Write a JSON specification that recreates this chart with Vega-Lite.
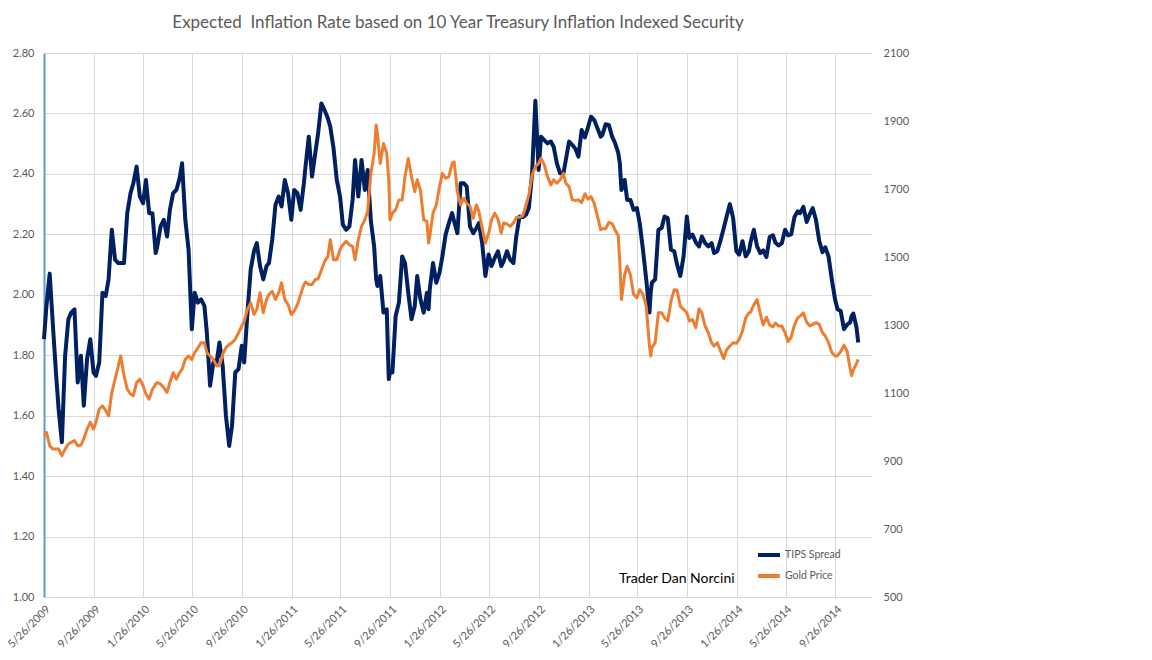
{
  "$schema": "https://vega.github.io/schema/vega-lite/v6.json",
  "description": "Expected inflation (10y TIPS spread) against the gold price, May 2009 - Nov 2014.",
  "width": 828,
  "height": 544,
  "autosize": {"type": "none"},
  "padding": {"left": 44, "top": 53, "right": 280, "bottom": 63},
  "background": "white",
  "title": {
    "text": "Expected \u00a0Inflation Rate based on 10 Year Treasury Inflation Indexed Security",
    "font": "Lato",
    "fontSize": 17,
    "fontWeight": "normal",
    "color": "#595959",
    "anchor": "middle",
    "frame": "group",
    "baseline": "alphabetic",
    "offset": 2
  },
  "data": {
    "values": [
      {"date": "2009-05-26", "tips": 1.853, "gold": 975},
      {"date": "2009-06-01", "tips": 1.963, "gold": 984},
      {"date": "2009-06-09", "tips": 2.070, "gold": 945},
      {"date": "2009-06-17", "tips": 1.897, "gold": 935},
      {"date": "2009-06-25", "tips": 1.732, "gold": 935},
      {"date": "2009-07-01", "tips": 1.622, "gold": 935},
      {"date": "2009-07-09", "tips": 1.512, "gold": 916},
      {"date": "2009-07-17", "tips": 1.798, "gold": 935},
      {"date": "2009-07-25", "tips": 1.919, "gold": 950},
      {"date": "2009-08-01", "tips": 1.941, "gold": 955},
      {"date": "2009-08-09", "tips": 1.952, "gold": 960},
      {"date": "2009-08-17", "tips": 1.710, "gold": 945},
      {"date": "2009-08-25", "tips": 1.798, "gold": 947},
      {"date": "2009-09-01", "tips": 1.633, "gold": 965},
      {"date": "2009-09-09", "tips": 1.787, "gold": 994},
      {"date": "2009-09-17", "tips": 1.853, "gold": 1014},
      {"date": "2009-09-25", "tips": 1.743, "gold": 994},
      {"date": "2009-10-01", "tips": 1.732, "gold": 1014},
      {"date": "2009-10-09", "tips": 1.776, "gold": 1053},
      {"date": "2009-10-17", "tips": 2.007, "gold": 1062},
      {"date": "2009-10-25", "tips": 1.996, "gold": 1048},
      {"date": "2009-11-01", "tips": 2.051, "gold": 1033},
      {"date": "2009-11-09", "tips": 2.215, "gold": 1102},
      {"date": "2009-11-17", "tips": 2.116, "gold": 1141},
      {"date": "2009-11-25", "tips": 2.105, "gold": 1180},
      {"date": "2009-12-01", "tips": 2.105, "gold": 1209},
      {"date": "2009-12-09", "tips": 2.105, "gold": 1151},
      {"date": "2009-12-17", "tips": 2.270, "gold": 1111},
      {"date": "2009-12-25", "tips": 2.336, "gold": 1097},
      {"date": "2010-01-01", "tips": 2.369, "gold": 1092},
      {"date": "2010-01-09", "tips": 2.424, "gold": 1131},
      {"date": "2010-01-17", "tips": 2.325, "gold": 1141},
      {"date": "2010-01-25", "tips": 2.303, "gold": 1121},
      {"date": "2010-02-01", "tips": 2.380, "gold": 1097},
      {"date": "2010-02-09", "tips": 2.270, "gold": 1082},
      {"date": "2010-02-17", "tips": 2.270, "gold": 1111},
      {"date": "2010-02-25", "tips": 2.138, "gold": 1126},
      {"date": "2010-03-01", "tips": 2.160, "gold": 1131},
      {"date": "2010-03-09", "tips": 2.226, "gold": 1126},
      {"date": "2010-03-17", "tips": 2.248, "gold": 1116},
      {"date": "2010-03-25", "tips": 2.193, "gold": 1102},
      {"date": "2010-04-01", "tips": 2.281, "gold": 1131},
      {"date": "2010-04-09", "tips": 2.336, "gold": 1160},
      {"date": "2010-04-17", "tips": 2.347, "gold": 1141},
      {"date": "2010-04-25", "tips": 2.386, "gold": 1160},
      {"date": "2010-05-01", "tips": 2.435, "gold": 1170},
      {"date": "2010-05-09", "tips": 2.248, "gold": 1199},
      {"date": "2010-05-17", "tips": 2.149, "gold": 1209},
      {"date": "2010-05-25", "tips": 1.886, "gold": 1199},
      {"date": "2010-06-01", "tips": 2.007, "gold": 1219},
      {"date": "2010-06-09", "tips": 1.974, "gold": 1233},
      {"date": "2010-06-17", "tips": 1.985, "gold": 1248},
      {"date": "2010-06-25", "tips": 1.963, "gold": 1248},
      {"date": "2010-07-01", "tips": 1.875, "gold": 1219},
      {"date": "2010-07-09", "tips": 1.699, "gold": 1209},
      {"date": "2010-07-17", "tips": 1.776, "gold": 1199},
      {"date": "2010-07-25", "tips": 1.776, "gold": 1180},
      {"date": "2010-08-01", "tips": 1.842, "gold": 1180},
      {"date": "2010-08-09", "tips": 1.765, "gold": 1214},
      {"date": "2010-08-17", "tips": 1.600, "gold": 1233},
      {"date": "2010-08-25", "tips": 1.500, "gold": 1243},
      {"date": "2010-09-01", "tips": 1.567, "gold": 1248},
      {"date": "2010-09-09", "tips": 1.743, "gold": 1258},
      {"date": "2010-09-17", "tips": 1.754, "gold": 1277},
      {"date": "2010-09-25", "tips": 1.831, "gold": 1297},
      {"date": "2010-10-01", "tips": 1.776, "gold": 1311},
      {"date": "2010-10-09", "tips": 1.941, "gold": 1346},
      {"date": "2010-10-17", "tips": 2.084, "gold": 1365},
      {"date": "2010-10-25", "tips": 2.144, "gold": 1331},
      {"date": "2010-11-01", "tips": 2.171, "gold": 1346},
      {"date": "2010-11-09", "tips": 2.095, "gold": 1395},
      {"date": "2010-11-17", "tips": 2.051, "gold": 1336},
      {"date": "2010-11-25", "tips": 2.095, "gold": 1375},
      {"date": "2010-12-01", "tips": 2.105, "gold": 1390},
      {"date": "2010-12-09", "tips": 2.182, "gold": 1399},
      {"date": "2010-12-17", "tips": 2.298, "gold": 1375},
      {"date": "2010-12-25", "tips": 2.325, "gold": 1395},
      {"date": "2011-01-01", "tips": 2.292, "gold": 1424},
      {"date": "2011-01-09", "tips": 2.380, "gold": 1375},
      {"date": "2011-01-17", "tips": 2.336, "gold": 1360},
      {"date": "2011-01-25", "tips": 2.248, "gold": 1331},
      {"date": "2011-02-01", "tips": 2.347, "gold": 1341},
      {"date": "2011-02-09", "tips": 2.336, "gold": 1360},
      {"date": "2011-02-17", "tips": 2.281, "gold": 1390},
      {"date": "2011-02-25", "tips": 2.369, "gold": 1419},
      {"date": "2011-03-01", "tips": 2.424, "gold": 1426},
      {"date": "2011-03-09", "tips": 2.523, "gold": 1419},
      {"date": "2011-03-17", "tips": 2.391, "gold": 1419},
      {"date": "2011-03-25", "tips": 2.468, "gold": 1434},
      {"date": "2011-04-01", "tips": 2.534, "gold": 1436},
      {"date": "2011-04-09", "tips": 2.633, "gold": 1461},
      {"date": "2011-04-17", "tips": 2.611, "gold": 1487},
      {"date": "2011-04-25", "tips": 2.584, "gold": 1502},
      {"date": "2011-05-01", "tips": 2.556, "gold": 1551},
      {"date": "2011-05-09", "tips": 2.485, "gold": 1492},
      {"date": "2011-05-17", "tips": 2.380, "gold": 1492},
      {"date": "2011-05-25", "tips": 2.325, "gold": 1522},
      {"date": "2011-06-01", "tips": 2.232, "gold": 1536},
      {"date": "2011-06-09", "tips": 2.215, "gold": 1546},
      {"date": "2011-06-17", "tips": 2.226, "gold": 1536},
      {"date": "2011-06-25", "tips": 2.314, "gold": 1531},
      {"date": "2011-07-01", "tips": 2.446, "gold": 1492},
      {"date": "2011-07-09", "tips": 2.325, "gold": 1551},
      {"date": "2011-07-17", "tips": 2.446, "gold": 1590},
      {"date": "2011-07-25", "tips": 2.347, "gold": 1609},
      {"date": "2011-08-01", "tips": 2.413, "gold": 1634},
      {"date": "2011-08-09", "tips": 2.243, "gold": 1746},
      {"date": "2011-08-17", "tips": 2.160, "gold": 1805},
      {"date": "2011-08-22", "tips": 2.051, "gold": 1888},
      {"date": "2011-08-25", "tips": 2.029, "gold": 1863},
      {"date": "2011-09-01", "tips": 2.062, "gold": 1775},
      {"date": "2011-09-09", "tips": 1.941, "gold": 1834},
      {"date": "2011-09-17", "tips": 1.952, "gold": 1805},
      {"date": "2011-09-22", "tips": 1.721, "gold": 1727},
      {"date": "2011-09-25", "tips": 1.743, "gold": 1609},
      {"date": "2011-10-01", "tips": 1.743, "gold": 1629},
      {"date": "2011-10-09", "tips": 1.930, "gold": 1639},
      {"date": "2011-10-17", "tips": 1.974, "gold": 1668},
      {"date": "2011-10-25", "tips": 2.127, "gold": 1668},
      {"date": "2011-11-01", "tips": 2.105, "gold": 1736},
      {"date": "2011-11-09", "tips": 2.007, "gold": 1790},
      {"date": "2011-11-17", "tips": 1.919, "gold": 1736},
      {"date": "2011-11-25", "tips": 1.963, "gold": 1692},
      {"date": "2011-12-01", "tips": 2.062, "gold": 1727},
      {"date": "2011-12-09", "tips": 1.985, "gold": 1697},
      {"date": "2011-12-17", "tips": 1.941, "gold": 1609},
      {"date": "2011-12-25", "tips": 2.007, "gold": 1605},
      {"date": "2011-12-29", "tips": 1.952, "gold": 1541},
      {"date": "2012-01-01", "tips": 2.018, "gold": 1561},
      {"date": "2012-01-09", "tips": 2.105, "gold": 1629},
      {"date": "2012-01-17", "tips": 2.040, "gold": 1653},
      {"date": "2012-01-25", "tips": 2.073, "gold": 1707},
      {"date": "2012-02-01", "tips": 2.127, "gold": 1746},
      {"date": "2012-02-09", "tips": 2.199, "gold": 1732},
      {"date": "2012-02-17", "tips": 2.237, "gold": 1736},
      {"date": "2012-02-25", "tips": 2.270, "gold": 1775},
      {"date": "2012-03-01", "tips": 2.243, "gold": 1780},
      {"date": "2012-03-09", "tips": 2.204, "gold": 1692},
      {"date": "2012-03-17", "tips": 2.369, "gold": 1653},
      {"date": "2012-03-25", "tips": 2.369, "gold": 1673},
      {"date": "2012-04-01", "tips": 2.358, "gold": 1658},
      {"date": "2012-04-09", "tips": 2.226, "gold": 1649},
      {"date": "2012-04-17", "tips": 2.204, "gold": 1614},
      {"date": "2012-04-25", "tips": 2.221, "gold": 1653},
      {"date": "2012-05-01", "tips": 2.237, "gold": 1634},
      {"date": "2012-05-09", "tips": 2.171, "gold": 1585},
      {"date": "2012-05-17", "tips": 2.062, "gold": 1541},
      {"date": "2012-05-25", "tips": 2.133, "gold": 1570},
      {"date": "2012-06-01", "tips": 2.095, "gold": 1609},
      {"date": "2012-06-09", "tips": 2.122, "gold": 1629},
      {"date": "2012-06-17", "tips": 2.144, "gold": 1611},
      {"date": "2012-06-25", "tips": 2.095, "gold": 1570},
      {"date": "2012-07-01", "tips": 2.111, "gold": 1600},
      {"date": "2012-07-09", "tips": 2.144, "gold": 1597},
      {"date": "2012-07-17", "tips": 2.116, "gold": 1590},
      {"date": "2012-07-25", "tips": 2.105, "gold": 1600},
      {"date": "2012-08-01", "tips": 2.193, "gold": 1616},
      {"date": "2012-08-09", "tips": 2.259, "gold": 1617},
      {"date": "2012-08-17", "tips": 2.257, "gold": 1621},
      {"date": "2012-08-25", "tips": 2.265, "gold": 1653},
      {"date": "2012-09-01", "tips": 2.287, "gold": 1683},
      {"date": "2012-09-09", "tips": 2.402, "gold": 1741},
      {"date": "2012-09-17", "tips": 2.642, "gold": 1766},
      {"date": "2012-09-25", "tips": 2.413, "gold": 1775},
      {"date": "2012-10-01", "tips": 2.523, "gold": 1790},
      {"date": "2012-10-09", "tips": 2.512, "gold": 1771},
      {"date": "2012-10-17", "tips": 2.501, "gold": 1736},
      {"date": "2012-10-25", "tips": 2.507, "gold": 1712},
      {"date": "2012-11-01", "tips": 2.490, "gold": 1727},
      {"date": "2012-11-09", "tips": 2.435, "gold": 1717},
      {"date": "2012-11-17", "tips": 2.402, "gold": 1727},
      {"date": "2012-11-25", "tips": 2.402, "gold": 1746},
      {"date": "2012-12-01", "tips": 2.446, "gold": 1717},
      {"date": "2012-12-09", "tips": 2.507, "gold": 1707},
      {"date": "2012-12-17", "tips": 2.496, "gold": 1668},
      {"date": "2012-12-25", "tips": 2.482, "gold": 1666},
      {"date": "2013-01-01", "tips": 2.457, "gold": 1668},
      {"date": "2013-01-09", "tips": 2.545, "gold": 1660},
      {"date": "2013-01-17", "tips": 2.521, "gold": 1686},
      {"date": "2013-01-25", "tips": 2.556, "gold": 1670},
      {"date": "2013-02-01", "tips": 2.589, "gold": 1678},
      {"date": "2013-02-09", "tips": 2.578, "gold": 1658},
      {"date": "2013-02-17", "tips": 2.551, "gold": 1619},
      {"date": "2013-02-25", "tips": 2.523, "gold": 1580},
      {"date": "2013-03-01", "tips": 2.529, "gold": 1583},
      {"date": "2013-03-09", "tips": 2.564, "gold": 1583},
      {"date": "2013-03-17", "tips": 2.562, "gold": 1602},
      {"date": "2013-03-25", "tips": 2.523, "gold": 1598},
      {"date": "2013-04-01", "tips": 2.503, "gold": 1580},
      {"date": "2013-04-09", "tips": 2.470, "gold": 1563},
      {"date": "2013-04-13", "tips": 2.435, "gold": 1482},
      {"date": "2013-04-17", "tips": 2.347, "gold": 1375},
      {"date": "2013-04-25", "tips": 2.380, "gold": 1448},
      {"date": "2013-05-01", "tips": 2.314, "gold": 1473},
      {"date": "2013-05-09", "tips": 2.314, "gold": 1448},
      {"date": "2013-05-17", "tips": 2.281, "gold": 1390},
      {"date": "2013-05-25", "tips": 2.287, "gold": 1380},
      {"date": "2013-06-01", "tips": 2.237, "gold": 1404},
      {"date": "2013-06-09", "tips": 2.149, "gold": 1390},
      {"date": "2013-06-17", "tips": 2.051, "gold": 1355},
      {"date": "2013-06-25", "tips": 1.941, "gold": 1238},
      {"date": "2013-06-28", "tips": 2.007, "gold": 1209},
      {"date": "2013-07-01", "tips": 2.040, "gold": 1233},
      {"date": "2013-07-09", "tips": 2.051, "gold": 1248},
      {"date": "2013-07-17", "tips": 2.215, "gold": 1336},
      {"date": "2013-07-25", "tips": 2.221, "gold": 1336},
      {"date": "2013-08-01", "tips": 2.259, "gold": 1321},
      {"date": "2013-08-09", "tips": 2.254, "gold": 1312},
      {"date": "2013-08-17", "tips": 2.149, "gold": 1370},
      {"date": "2013-08-25", "tips": 2.144, "gold": 1404},
      {"date": "2013-09-01", "tips": 2.100, "gold": 1402},
      {"date": "2013-09-09", "tips": 2.062, "gold": 1355},
      {"date": "2013-09-17", "tips": 2.127, "gold": 1346},
      {"date": "2013-09-25", "tips": 2.259, "gold": 1336},
      {"date": "2013-10-01", "tips": 2.188, "gold": 1312},
      {"date": "2013-10-09", "tips": 2.199, "gold": 1316},
      {"date": "2013-10-17", "tips": 2.174, "gold": 1292},
      {"date": "2013-10-25", "tips": 2.160, "gold": 1348},
      {"date": "2013-11-01", "tips": 2.193, "gold": 1336},
      {"date": "2013-11-09", "tips": 2.171, "gold": 1297},
      {"date": "2013-11-17", "tips": 2.160, "gold": 1277},
      {"date": "2013-11-25", "tips": 2.171, "gold": 1248},
      {"date": "2013-12-01", "tips": 2.138, "gold": 1238},
      {"date": "2013-12-09", "tips": 2.144, "gold": 1248},
      {"date": "2013-12-17", "tips": 2.180, "gold": 1224},
      {"date": "2013-12-25", "tips": 2.221, "gold": 1201},
      {"date": "2014-01-01", "tips": 2.259, "gold": 1227},
      {"date": "2014-01-09", "tips": 2.300, "gold": 1238},
      {"date": "2014-01-17", "tips": 2.254, "gold": 1248},
      {"date": "2014-01-25", "tips": 2.144, "gold": 1246},
      {"date": "2014-02-01", "tips": 2.133, "gold": 1258},
      {"date": "2014-02-09", "tips": 2.177, "gold": 1282},
      {"date": "2014-02-17", "tips": 2.127, "gold": 1321},
      {"date": "2014-02-25", "tips": 2.144, "gold": 1336},
      {"date": "2014-03-01", "tips": 2.174, "gold": 1338},
      {"date": "2014-03-09", "tips": 2.215, "gold": 1359},
      {"date": "2014-03-17", "tips": 2.160, "gold": 1375},
      {"date": "2014-03-25", "tips": 2.138, "gold": 1333},
      {"date": "2014-04-01", "tips": 2.147, "gold": 1300},
      {"date": "2014-04-09", "tips": 2.125, "gold": 1323},
      {"date": "2014-04-17", "tips": 2.191, "gold": 1300},
      {"date": "2014-04-25", "tips": 2.197, "gold": 1294},
      {"date": "2014-05-01", "tips": 2.173, "gold": 1306},
      {"date": "2014-05-09", "tips": 2.163, "gold": 1297},
      {"date": "2014-05-17", "tips": 2.171, "gold": 1297},
      {"date": "2014-05-25", "tips": 2.215, "gold": 1277},
      {"date": "2014-06-01", "tips": 2.197, "gold": 1251},
      {"date": "2014-06-09", "tips": 2.200, "gold": 1264},
      {"date": "2014-06-17", "tips": 2.257, "gold": 1300},
      {"date": "2014-06-25", "tips": 2.276, "gold": 1321},
      {"date": "2014-07-01", "tips": 2.270, "gold": 1326},
      {"date": "2014-07-09", "tips": 2.291, "gold": 1336},
      {"date": "2014-07-17", "tips": 2.241, "gold": 1308},
      {"date": "2014-07-25", "tips": 2.267, "gold": 1297},
      {"date": "2014-08-01", "tips": 2.287, "gold": 1302},
      {"date": "2014-08-09", "tips": 2.248, "gold": 1307},
      {"date": "2014-08-17", "tips": 2.179, "gold": 1302},
      {"date": "2014-08-25", "tips": 2.141, "gold": 1277},
      {"date": "2014-09-01", "tips": 2.157, "gold": 1268},
      {"date": "2014-09-09", "tips": 2.127, "gold": 1248},
      {"date": "2014-09-17", "tips": 2.051, "gold": 1219},
      {"date": "2014-09-25", "tips": 1.985, "gold": 1209},
      {"date": "2014-10-01", "tips": 1.952, "gold": 1209},
      {"date": "2014-10-09", "tips": 1.946, "gold": 1222},
      {"date": "2014-10-17", "tips": 1.886, "gold": 1241},
      {"date": "2014-10-25", "tips": 1.902, "gold": 1222},
      {"date": "2014-11-01", "tips": 1.908, "gold": 1172},
      {"date": "2014-11-05", "tips": 1.930, "gold": 1151},
      {"date": "2014-11-09", "tips": 1.938, "gold": 1168},
      {"date": "2014-11-17", "tips": 1.891, "gold": 1187},
      {"date": "2014-11-21", "tips": 1.842, "gold": 1199}
    ]
  },
  "encoding": {
    "x": {
      "field": "date",
      "type": "temporal",
      "scale": {
        "type": "utc",
        "domain": [
          {"year": 2009, "month": 5, "date": 26, "utc": true},
          {"year": 2014, "month": 12, "date": 25, "utc": true}
        ]
      },
      "axis": {
        "title": null,
        "format": "%-m/%-d/%Y",
        "values": [
          {"year": 2009, "month": 5, "date": 26, "utc": true},
          {"year": 2009, "month": 9, "date": 26, "utc": true},
          {"year": 2010, "month": 1, "date": 26, "utc": true},
          {"year": 2010, "month": 5, "date": 26, "utc": true},
          {"year": 2010, "month": 9, "date": 26, "utc": true},
          {"year": 2011, "month": 1, "date": 26, "utc": true},
          {"year": 2011, "month": 5, "date": 26, "utc": true},
          {"year": 2011, "month": 9, "date": 26, "utc": true},
          {"year": 2012, "month": 1, "date": 26, "utc": true},
          {"year": 2012, "month": 5, "date": 26, "utc": true},
          {"year": 2012, "month": 9, "date": 26, "utc": true},
          {"year": 2013, "month": 1, "date": 26, "utc": true},
          {"year": 2013, "month": 5, "date": 26, "utc": true},
          {"year": 2013, "month": 9, "date": 26, "utc": true},
          {"year": 2014, "month": 1, "date": 26, "utc": true},
          {"year": 2014, "month": 5, "date": 26, "utc": true},
          {"year": 2014, "month": 9, "date": 26, "utc": true}
        ],
        "labelAngle": -45,
        "labelPadding": 6,
        "labelOverlap": false,
        "labelFlush": false,
        "grid": true,
        "gridColor": "#D9D9D9",
        "ticks": false,
        "domain": false
      }
    }
  },
  "layer": [
    {
      "layer": [
        {
          "mark": {"type": "line", "strokeWidth": 4, "strokeJoin": "round"},
          "encoding": {
            "y": {
              "field": "tips",
              "type": "quantitative",
              "scale": {"domain": [1, 2.8], "nice": false, "zero": false},
              "axis": {
                "title": null,
                "values": [1, 1.2, 1.4, 1.6, 1.8, 2, 2.2, 2.4, 2.6, 2.8],
                "format": ".2f",
                "grid": true,
                "gridColor": "#D9D9D9",
                "ticks": false,
                "domain": true,
                "domainColor": "#5B9BD5",
                "domainWidth": 2,
                "labelPadding": 10
              }
            },
            "color": {
              "datum": "TIPS Spread",
              "type": "nominal",
              "scale": {"domain": ["TIPS Spread", "Gold Price"], "range": ["#002060", "#ED7D31"]},
              "legend": {
                "title": null,
                "orient": "none",
                "legendX": 712,
                "legendY": 489,
                "symbolType": "stroke",
                "symbolStrokeWidth": 4,
                "symbolSize": 484,
                "labelFont": "Lato",
                "labelFontSize": 10.5,
                "labelColor": "#595959",
                "labelOffset": 3,
                "rowPadding": 0,
                "padding": 0
              }
            }
          }
        },
        {
          "data": {"values": [{"date": "2013-04-11", "label": "Trader Dan Norcini"}]},
          "mark": {"type": "text", "align": "left", "baseline": "middle", "font": "Lato", "fontSize": 14, "color": "#000000"},
          "encoding": {
            "x": {"field": "date", "type": "temporal"},
            "y": {"datum": 1.06, "type": "quantitative"},
            "text": {"field": "label", "type": "nominal"}
          }
        }
      ]
    },
    {
      "mark": {"type": "line", "strokeWidth": 3, "strokeJoin": "round"},
      "encoding": {
        "y": {
          "field": "gold",
          "type": "quantitative",
          "scale": {"domain": [500, 2100], "nice": false, "zero": false},
          "axis": {
            "orient": "right",
            "title": null,
            "values": [500, 700, 900, 1100, 1300, 1500, 1700, 1900, 2100],
            "format": "d",
            "grid": false,
            "ticks": false,
            "domain": false,
            "labelPadding": 11
          }
        },
        "color": {"datum": "Gold Price", "type": "nominal"}
      }
    }
  ],
  "resolve": {"scale": {"y": "independent"}},
  "config": {
    "view": {"stroke": null},
    "axis": {"labelFont": "Lato", "labelFontSize": 11, "labelColor": "#595959"}
  }
}
